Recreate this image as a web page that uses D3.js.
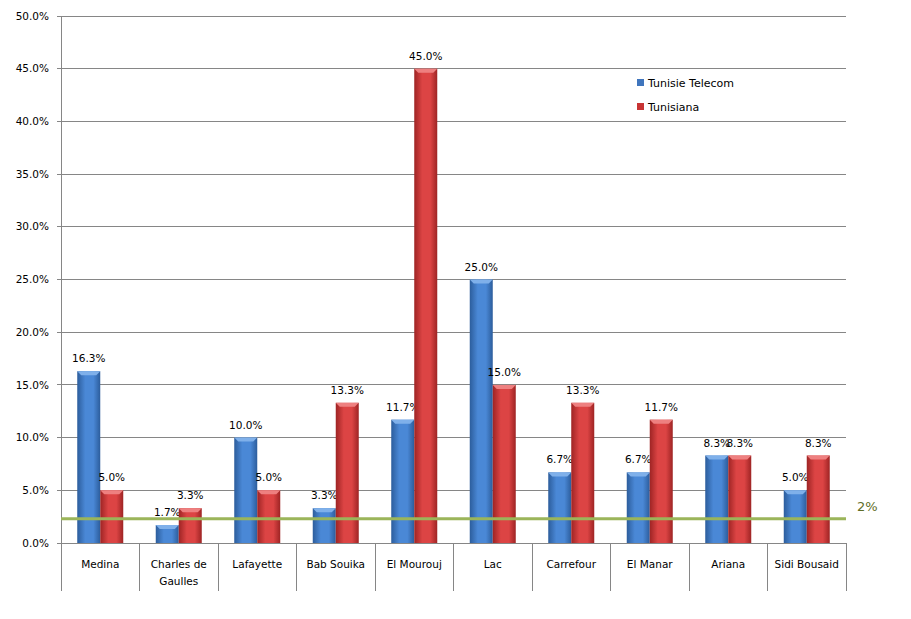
<!DOCTYPE html>
<html>
<head>
<meta charset="utf-8">
<script src="https://cdn.jsdelivr.net/npm/d3@7"></script>
<style>
  body { margin: 0; background: #fff; }
  text { font-family: "DejaVu Sans", "Liberation Sans", sans-serif; }
</style>
</head>
<body>
<svg id="chart" width="911" height="619"></svg>
<script>
// categories and values
var categories = ["Medina", "Charles de Gaulles", "Lafayette", "Bab Souika", "El Mourouj",
  "Lac", "Carrefour", "El Manar", "Ariana", "Sidi Bousaid"];
var seriesNames = ["Tunisie Telecom", "Tunisiana"];
var telecom = [16.3, 1.7, 10.0, 3.3, 11.7, 25.0, 6.7, 6.7, 8.3, 5.0];
var tunisiana = [5.0, 3.3, 5.0, 13.3, 45.0, 15.0, 13.3, 11.7, 8.3, 8.3];
var yTicks = [0, 5, 10, 15, 20, 25, 30, 35, 40, 45, 50];
var threshold = 2.3;
var thresholdLabel = "2%";

var margin = { top: 16, left: 61, right: 65, bottom: 76 };

var svg = d3.select("#chart");

// gradients for the bevelled bars
var defs = svg.append("defs");
function grad(id, edge, mid) {
  var g = defs.append("linearGradient").attr("id", id)
    .attr("x1", "0%").attr("x2", "100%").attr("y1", "0%").attr("y2", "0%");
  g.append("stop").attr("offset", "0%").attr("stop-color", edge);
  g.append("stop").attr("offset", "35%").attr("stop-color", mid);
  g.append("stop").attr("offset", "70%").attr("stop-color", mid);
  g.append("stop").attr("offset", "100%").attr("stop-color", edge);
}
grad("gBlue", "#2c5d9c", "#4a88d6");
grad("gRed", "#9e2424", "#dc4444");

var colors = ["url(#gBlue)", "url(#gRed)"];
var topColors = ["#7fb0ea", "#ee8080"];
var legendColors = ["#3f75bd", "#c83434"];

var g = svg.append("g").attr("transform", "translate(" + margin.left + "," + margin.top + ")");

var y = d3.scaleLinear().domain([0, 50]).range([527, 0]);
var x = d3.scaleBand().domain(categories).range([0, 785]);
var xs = d3.scaleBand().domain(seriesNames).range([0, 46]);

// gridlines
g.selectAll(".grid").data(yTicks).enter().append("line")
  .attr("x1", -4).attr("x2", 785)
  .attr("y1", d => y(d)).attr("y2", d => y(d))
  .attr("stroke", "#868686").attr("stroke-width", 1)
  .attr("shape-rendering", "crispEdges");

g.selectAll(".ytick").data(yTicks).enter().append("text")
  .attr("x", -12).attr("y", d => y(d)).attr("dy", "0.35em")
  .attr("text-anchor", "end").attr("font-size", "10.5px").attr("fill", "#000")
  .text(d => d.toFixed(1) + "%");

// category axis with dividers
g.append("line").attr("x1", 0).attr("x2", 0).attr("y1", 0).attr("y2", 575)
  .attr("stroke", "#868686").attr("shape-rendering", "crispEdges");
g.selectAll(".div").data(categories).enter().append("line")
  .attr("x1", d => x(d) + x.bandwidth()).attr("x2", d => x(d) + x.bandwidth())
  .attr("y1", y(0)).attr("y2", 575)
  .attr("stroke", "#868686").attr("shape-rendering", "crispEdges");

var catText = g.selectAll(".cat").data(categories).enter().append("text")
  .attr("x", d => x(d) + x.bandwidth() / 2).attr("y", 552)
  .attr("text-anchor", "middle").attr("font-size", "10.5px").attr("fill", "#000");
catText.each(function (d) {
  var t = d3.select(this);
  var words = d === "Charles de Gaulles" ? ["Charles de", "Gaulles"] : [d];
  words.forEach(function (w, i) {
    t.append("tspan").attr("x", x(d) + x.bandwidth() / 2).attr("dy", i === 0 ? 0 : 17).text(w);
  });
});

// bars
var rows = [];
categories.forEach(function (c, i) {
  rows.push({ cat: c, s: 0, v: telecom[i] });
  rows.push({ cat: c, s: 1, v: tunisiana[i] });
});
var off = (x.bandwidth() - 46) / 2;
var bw = xs.bandwidth();

var bars = g.selectAll(".bar").data(rows).enter().append("g")
  .attr("transform", d => "translate(" + (x(d.cat) + off + xs(seriesNames[d.s])) + ",0)");
bars.append("rect")
  .attr("x", 0).attr("width", bw)
  .attr("y", d => y(d.v)).attr("height", d => y(0) - y(d.v))
  .attr("fill", d => colors[d.s]);
bars.append("path")
  .attr("d", d => "M0," + y(d.v) + "L" + bw + "," + y(d.v) + "L" + (bw - 4) + "," + (y(d.v) + 4) + "L4," + (y(d.v) + 4) + "Z")
  .attr("fill", d => topColors[d.s]);
bars.append("text")
  .attr("x", bw / 2).attr("y", d => y(d.v) - 9)
  .attr("text-anchor", "middle").attr("font-size", "10.5px").attr("fill", "#000")
  .text(d => d.v.toFixed(1) + "%");

// threshold line
g.append("line").attr("x1", 0).attr("x2", 785)
  .attr("y1", y(threshold)).attr("y2", y(threshold))
  .attr("stroke", "#9bb55a").attr("stroke-width", 3);
g.append("text").attr("x", 796).attr("y", y(threshold) - 8)
  .attr("font-size", "13px").attr("fill", "#5f6e26").text(thresholdLabel);

// legend
var lg = g.selectAll(".leg").data(seriesNames).enter().append("g")
  .attr("transform", (d, i) => "translate(576," + (63 + i * 24) + ")");
lg.append("rect").attr("width", 7).attr("height", 7).attr("fill", (d, i) => legendColors[i]);
lg.append("text").attr("x", 11).attr("y", 4).attr("dy", "0.35em")
  .attr("font-size", "11px").attr("fill", "#000").text(d => d);
</script>
</body>
</html>
